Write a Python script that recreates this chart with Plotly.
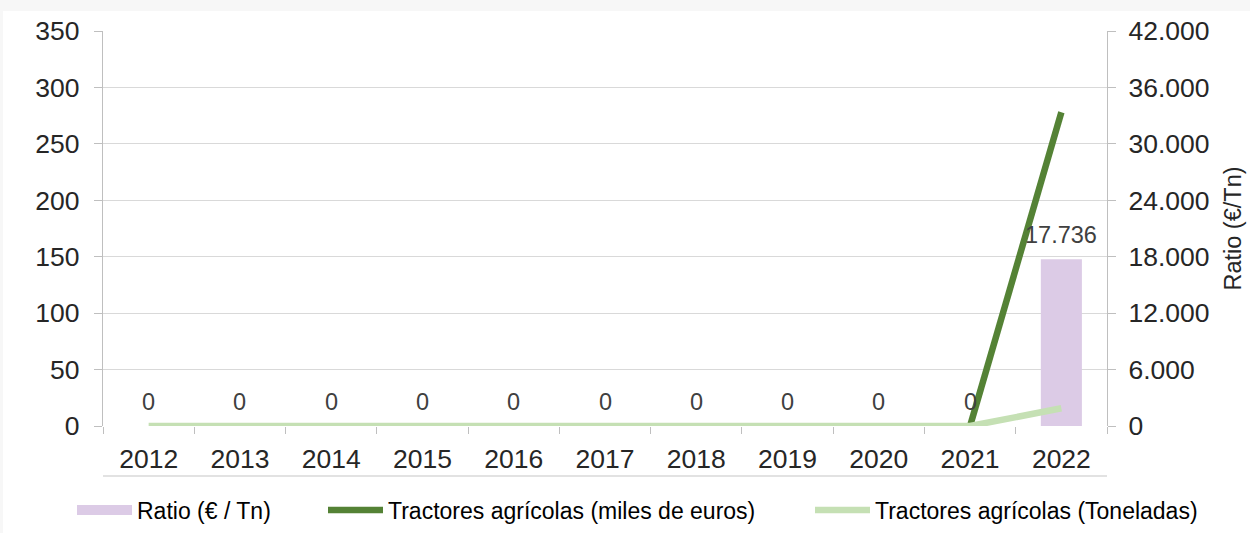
import plotly.graph_objects as go

years = ["2012", "2013", "2014", "2015", "2016", "2017", "2018", "2019", "2020", "2021", "2022"]
ratio = [0, 0, 0, 0, 0, 0, 0, 0, 0, 0, 17736]
miles_euros = [None, None, None, None, None, None, None, None, None, 0, 278]
toneladas = [0, 0, 0, 0, 0, 0, 0, 0, 0, 0, 15.7]

left_ticks = [0, 50, 100, 150, 200, 250, 300, 350]
right_ticks = [0, 6000, 12000, 18000, 24000, 30000, 36000, 42000]

FONT = "Liberation Sans, Arial, sans-serif"
TXT = "#262626"
GRID = "#d9d9d9"
AXIS = "#bfbfbf"
PURPLE = "#dccbe6"

fig = go.Figure()

fig.add_trace(go.Bar(
    x=years, y=ratio, name="Ratio (€ / Tn)",
    marker=dict(color=PURPLE, line=dict(width=0)),
    width=0.45, showlegend=False,
    yaxis="y",
))
# legend entry for the bar series (wide swatch like the original)
fig.add_trace(go.Scatter(
    x=years, y=[None] * len(years), name="Ratio (€ / Tn)",
    mode="lines", line=dict(color=PURPLE, width=12),
    yaxis="y", legend="legend", hoverinfo="skip",
))
fig.add_trace(go.Scatter(
    x=years, y=miles_euros, name="Tractores agrícolas (miles de euros)",
    mode="lines", line=dict(color="#548235", width=6.5),
    yaxis="y2", legend="legend2",
))
fig.add_trace(go.Scatter(
    x=years, y=toneladas, name="Tractores agrícolas (Toneladas)",
    mode="lines", line=dict(color="#c5e0b4", width=6.5),
    yaxis="y2", legend="legend3",
))

# data labels of the bars (category index positions on the category axis)
for i, v in enumerate(ratio):
    fig.add_annotation(
        x=i, y=v, xref="x", yref="y", text=f"{v:,}".replace(",", "."),
        showarrow=False, yanchor="bottom", yshift=9,
        font=dict(size=23.5, color="#404040", family=FONT),
    )

H = 395.0
W = 1004.0

def px_x(p):
    return (p - 103) / W

def px_y(p):
    return (426 - p) / H

leg_common = dict(
    orientation="h", y=px_y(510), yanchor="middle", xanchor="left",
    font=dict(size=23, color="#000000", family=FONT),
    itemwidth=55, bgcolor="rgba(0,0,0,0)",
)

fig.update_layout(
    width=1250, height=533,
    margin=dict(l=103, r=143, t=31, b=107, autoexpand=False),
    paper_bgcolor="white", plot_bgcolor="white",
    font=dict(family=FONT, color=TXT, size=26.5),
    separators=",.",
    showlegend=True,
    legend=dict(x=px_x(72), **leg_common),
    legend2=dict(x=px_x(323), **leg_common),
    legend3=dict(x=px_x(810), **leg_common),
    xaxis=dict(
        type="category", showgrid=False, showline=False,
        ticks="outside", tickson="boundaries", ticklen=7, tickcolor=AXIS,
        tickfont=dict(size=26.5, color=TXT), ticklabelstandoff=14,
        range=[-0.5, 10.5],
    ),
    yaxis=dict(
        side="right", range=[0, 42000], tickvals=right_ticks, tickformat=",",
        showgrid=True, gridcolor=GRID, gridwidth=1.3,
        showline=True, linecolor=AXIS, linewidth=1.3,
        ticks="outside", ticklen=8, tickcolor=AXIS,
        tickfont=dict(size=26.5, color=TXT), zeroline=False,
        ticklabelstandoff=7,
        title=dict(text="Ratio (€/Tn)", font=dict(size=23.5, color=TXT), standoff=16),
    ),
    yaxis2=dict(
        side="left", overlaying="y", range=[0, 350], tickvals=left_ticks,
        showgrid=False, showline=True, linecolor=AXIS, linewidth=1.3,
        ticks="outside", ticklen=8, tickcolor=AXIS,
        tickfont=dict(size=26.5, color=TXT), zeroline=False,
        ticklabelstandoff=9,
    ),
    shapes=[
        dict(type="line", xref="paper", yref="paper", x0=0, x1=1,
             y0=px_y(476), y1=px_y(476), line=dict(color=GRID, width=1.3)),
        dict(type="rect", xref="paper", yref="paper", x0=px_x(-5), x1=px_x(1260),
             y0=px_y(11), y1=px_y(-5), fillcolor="#f7f7f7", line=dict(width=0), layer="below"),
        dict(type="rect", xref="paper", yref="paper", x0=px_x(-5), x1=px_x(3),
             y0=px_y(540), y1=px_y(-5), fillcolor="#f7f7f7", line=dict(width=0), layer="below"),
    ],
)

fig.write_html("out.html", config={"displayModeBar": False},
               post_script="document.body.style.margin='0';")
